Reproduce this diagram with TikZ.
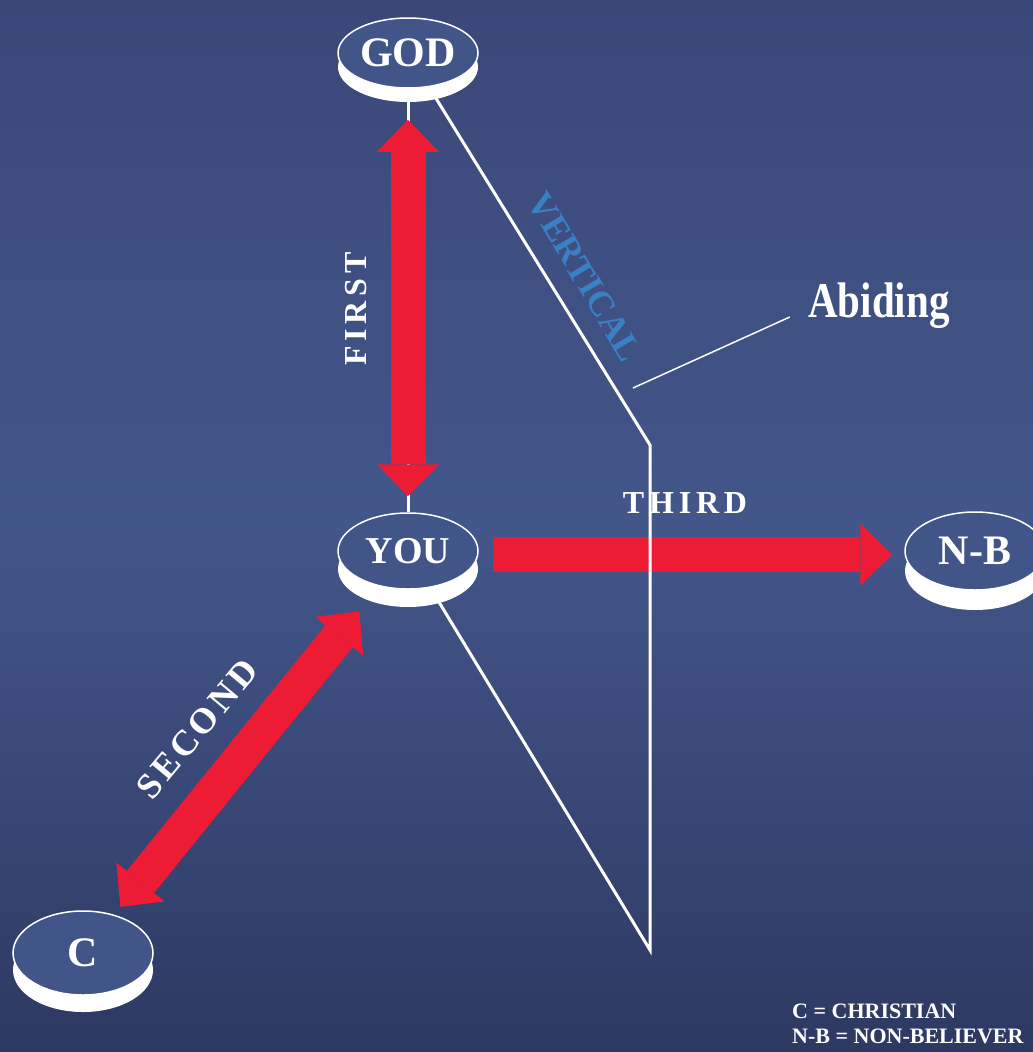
\documentclass[tikz,border=0pt]{standalone}
\usepackage{fontspec}
\setmainfont{Liberation Serif}
\usetikzlibrary{positioning,calc,shapes.geometric,arrows.meta,shadows}
\pgfdeclarelayer{background}
\pgfsetlayers{background,main}
\definecolor{bgtop}{RGB}{58,72,120}
\definecolor{bgmid}{RGB}{67,86,138}
\definecolor{bgbot}{RGB}{45,57,98}
\definecolor{diskblue}{RGB}{66,85,137}
\definecolor{arrowred}{RGB}{237,27,52}
\definecolor{vertblue}{RGB}{58,128,196}

\begin{document}
\begin{tikzpicture}[
  x=1pt, y=-1pt,
  bighead/.tip={Triangle[length=32pt,width=62pt,line width=0pt]},
  disk/.style={ellipse, draw=white, line width=1.5pt, fill=diskblue, text=white,
    minimum width=140pt, inner sep=0pt,
    font=\bfseries\fontsize{42}{42}\selectfont,
    general shadow={fill=white, shadow yshift=-#1}},
  bigarrow/.style={draw=arrowred, line width=35pt},
  plane/.style={draw=white, line width=3pt},
  arrowtext/.style={text=white, font=\bfseries\fontsize{32}{32}\selectfont\addfontfeature{LetterSpace=15}},
  legend/.style={text=white, anchor=base west, inner sep=0pt, font=\bfseries\fontsize{22}{22}\selectfont}
  ]

   \useasboundingbox (0,0) rectangle (1033,1052);

   \node (god) [disk=14pt, minimum height=70pt] at (408,53) {GOD};
   \node (you) [disk=18pt, minimum height=76pt, font=\bfseries\fontsize{38}{38}\selectfont] at (408,551) {YOU};
   \node (nb) [disk=20pt, minimum height=78pt] at (975,551) {N-B};
   \node (c) [disk=17pt, minimum height=84pt] at (83,953) {C};

   \coordinate (vtop) at (650,445);
   \coordinate (vbot) at (650,950);
   \coordinate (abtail) at (633,388);

   \node (first) [arrowtext, rotate=90] at (356,309) {FIRST};
   \node (second) [arrowtext, rotate=50.2, font=\bfseries\fontsize{36}{36}\selectfont\addfontfeature{LetterSpace=10}] at (197,729) {SECOND};
   \node (third) [arrowtext] at (685,503) {THIRD};
   \node (vertical) [rotate=-59.3, text=vertblue, font=\bfseries\fontsize{36}{36}\selectfont] at (585,277) {VERTICAL};
   \node (abiding) [anchor=base, text=white, font=\bfseries\fontsize{50}{50}\selectfont\addfontfeature{FakeStretch=0.82}] at (879,317) {Abiding};

   \node (legc) [legend] at (792,1018) {C = CHRISTIAN};
   \node (legnb) [legend] at (792,1043) {N-B = NON-BELIEVER};

   \draw [white, line width=1.5pt] (abtail) -- ([xshift=-15pt]abiding.base west);

   \begin{pgfonlayer}{background}
     \fill [top color=bgtop, bottom color=bgbot, middle color=bgmid] (0,0) rectangle (1033,1052);
     \draw [plane] (god) -- (you);
     \draw [bigarrow, bighead-bighead, shorten <=31pt, shorten >=16pt] (god) -- (you);
     \draw [bigarrow, -bighead, shorten <=14pt, shorten >=12pt] ([yshift=-3.5pt]you.east) -- ([yshift=-3.5pt]nb.west);
     \draw [bigarrow, bighead-bighead, shorten <=10pt, shorten >=32pt] (c) -- (you);
     \draw [plane] (god.center) -- (vtop) -- (vbot) -- (you.center);
   \end{pgfonlayer}

\end{tikzpicture}
\end{document}
